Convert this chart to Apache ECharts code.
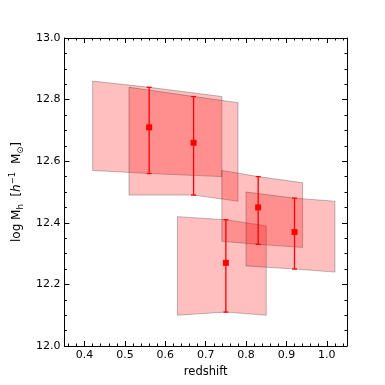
<!DOCTYPE html>
<html>
<head>
<meta charset="utf-8">
<script src="https://cdn.jsdelivr.net/npm/echarts@6/dist/echarts.min.js"></script>
<style>
html,body{margin:0;padding:0;background:#fff;}
#chart{width:385px;height:385px;}
</style>
</head>
<body>
<div id="chart"></div>
<script>
// ---- data ----
const redshift = [0.56, 0.67, 0.75, 0.83, 0.92];
const logMh    = [12.71, 12.66, 12.27, 12.45, 12.37];
const errLow   = [12.56, 12.49, 12.11, 12.33, 12.25];
const errHigh  = [12.84, 12.81, 12.41, 12.55, 12.48];
// redshift range of each band
const zLow     = [0.42, 0.51, 0.63, 0.74, 0.80];
const zHigh    = [0.74, 0.78, 0.85, 0.94, 1.02];
// band edges at zLow / zHigh
const bandTopAtLow  = [12.86, 12.84, 12.42, 12.57, 12.50];
const bandTopAtHigh = [12.81, 12.79, 12.39, 12.53, 12.47];
const bandBotAtLow  = [12.57, 12.49, 12.10, 12.34, 12.26];
const bandBotAtHigh = [12.55, 12.47, 12.10, 12.32, 12.24];
// ticks
const xMajorTicks = [0.4, 0.5, 0.6, 0.7, 0.8, 0.9, 1.0];
const xMinorTicks = [0.36, 0.38, 0.42, 0.44, 0.46, 0.48, 0.52, 0.54, 0.56, 0.58,
  0.62, 0.64, 0.66, 0.68, 0.72, 0.74, 0.76, 0.78, 0.82, 0.84, 0.86, 0.88,
  0.92, 0.94, 0.96, 0.98, 1.02, 1.04];
const yMajorTicks = [12.0, 12.2, 12.4, 12.6, 12.8, 13.0];
const yMinorTicks = [12.05, 12.1, 12.15, 12.25, 12.3, 12.35, 12.45, 12.5, 12.55,
  12.65, 12.7, 12.75, 12.85, 12.9, 12.95];

const FONT = 'DejaVu Sans';
const X_MIN = 0.35, X_MAX = 1.05, Y_MIN = 12.0, Y_MAX = 13.0;

function xAx(pos, ticks, len, showLine, labels) {
  return {
    type: 'value', position: pos, min: X_MIN, max: X_MAX,
    axisLine: {show: showLine, lineStyle: {color: '#000', width: 1}},
    axisTick: {show: true, inside: true, length: len, customValues: ticks,
      lineStyle: {color: '#000', width: 1}},
    axisLabel: labels ? {show: true, customValues: ticks, formatter: v => v.toFixed(1),
      color: '#000', fontSize: 11, fontFamily: FONT, margin: 4} : {show: false},
    splitLine: {show: false},
    name: labels ? 'redshift' : '', nameLocation: 'middle', nameGap: 19,
    nameTextStyle: {color: '#000', fontSize: 11.5, fontFamily: FONT}
  };
}
function yAx(pos, ticks, len, showLine, labels) {
  return {
    type: 'value', position: pos, min: Y_MIN, max: Y_MAX,
    axisLine: {show: showLine, lineStyle: {color: '#000', width: 1}},
    axisTick: {show: true, inside: true, length: len, customValues: ticks,
      lineStyle: {color: '#000', width: 1}},
    axisLabel: labels ? {show: true, customValues: ticks, formatter: v => v.toFixed(1),
      color: '#000', fontSize: 11, fontFamily: FONT, margin: 4} : {show: false},
    splitLine: {show: false},
    name: labels ? '{n|log M}{sub|h}{n|  [}{it|h}{sup|−1}{n|  M}{sub|⊙}{n|]}' : '',
    nameLocation: 'middle', nameGap: 33, nameRotate: 90,
    nameTextStyle: {color: '#000', fontSize: 12, fontFamily: FONT,
      rich: {
        n: {fontSize: 12, fontFamily: FONT, color: '#000', lineHeight: 17},
        it: {fontSize: 12, fontFamily: FONT, fontStyle: 'italic', color: '#000', lineHeight: 17},
        sub: {fontSize: 8.5, fontFamily: FONT, color: '#000', lineHeight: 11, verticalAlign: 'bottom'},
        sup: {fontSize: 8.5, fontFamily: FONT, color: '#000', lineHeight: 11, verticalAlign: 'top'}
      }}
  };
}

const chart = echarts.init(document.getElementById('chart'), null, {renderer: 'canvas'});

const bandData = redshift.map((z, i) => [z, logMh[i], i]);
const errData = redshift.map((z, i) => [z, errLow[i], errHigh[i]]);
const ptData = redshift.map((z, i) => [z, logMh[i]]);

chart.setOption({
  animation: false,
  backgroundColor: '#fff',
  grid: {left: 48, top: 38, width: 299, height: 308, containLabel: false},
  xAxis: [
    xAx('bottom', xMajorTicks, 5, true, true),
    xAx('bottom', xMinorTicks, 2.5, false, false),
    xAx('top', xMajorTicks, 5, true, false),
    xAx('top', xMinorTicks, 2.5, false, false)
  ],
  yAxis: [
    yAx('left', yMajorTicks, 5, true, true),
    yAx('left', yMinorTicks, 2.5, false, false),
    yAx('right', yMajorTicks, 5, true, false),
    yAx('right', yMinorTicks, 2.5, false, false)
  ],
  series: [
    {
      type: 'custom', z: 1, data: bandData, clip: true,
      renderItem: function (params, api) {
        const i = api.value(2);
        const pts = [
          api.coord([zLow[i], bandTopAtLow[i]]),
          api.coord([redshift[i], errHigh[i]]),
          api.coord([zHigh[i], bandTopAtHigh[i]]),
          api.coord([zHigh[i], bandBotAtHigh[i]]),
          api.coord([redshift[i], errLow[i]]),
          api.coord([zLow[i], bandBotAtLow[i]])
        ];
        return {
          type: 'polygon', shape: {points: pts},
          style: {fill: 'rgba(255,0,0,0.25)', stroke: 'rgba(0,0,0,0.25)', lineWidth: 1}
        };
      }
    },
    {
      type: 'custom', z: 2, data: errData,
      renderItem: function (params, api) {
        const lo = api.coord([api.value(0), api.value(1)]);
        const hi = api.coord([api.value(0), api.value(2)]);
        const c = 2.5;
        const st = {stroke: '#ff0000', lineWidth: 1.3};
        return {
          type: 'group', children: [
            {type: 'line', shape: {x1: lo[0], y1: lo[1], x2: hi[0], y2: hi[1]}, style: st},
            {type: 'line', shape: {x1: lo[0] - c, y1: lo[1], x2: lo[0] + c, y2: lo[1]}, style: st},
            {type: 'line', shape: {x1: hi[0] - c, y1: hi[1], x2: hi[0] + c, y2: hi[1]}, style: st}
          ]
        };
      }
    },
    {
      type: 'scatter', z: 3, data: ptData, symbol: 'rect', symbolSize: 6,
      itemStyle: {color: '#ff0000', opacity: 1}
    }
  ]
});
</script>
</body>
</html>
